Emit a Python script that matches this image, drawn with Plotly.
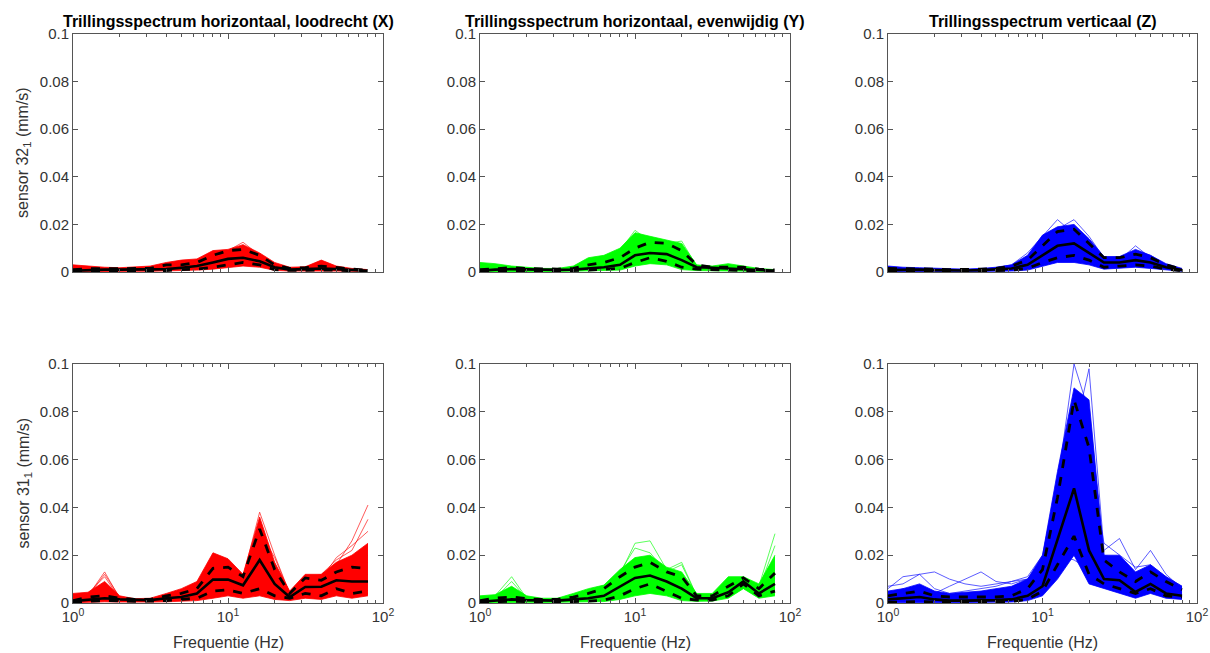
import plotly.graph_objects as go
from plotly.subplots import make_subplots

# 1/3-octave band centre frequencies (Hz)
freq = [1, 1.25, 1.6, 2, 2.5, 3.15, 4, 5, 6.3, 8, 10, 12.5, 16, 20, 25, 31.5, 40, 50, 63, 80]

titles = ["Trillingsspectrum horizontaal, loodrecht (X)",
          "Trillingsspectrum horizontaal, evenwijdig (Y)",
          "Trillingsspectrum verticaal (Z)"]
row_labels = ["sensor 32<sub>1</sub> (mm/s)", "sensor 31<sub>1</sub> (mm/s)"]
colors = ["#ff0000", "#00ff00", "#0000ff"]

# ---- sensor 32, X ----
s32x_lo = [0.0001, 0.0002, 0.0003, 0.0003, 0.0003, 0.0003, 0.0004, 0.0006, 0.0008, 0.0012, 0.002, 0.0025, 0.002, 0.0007, 0.0004, 0.0005, 0.0005, 0.0004, 0.0003, 0.0002]
s32x_hi = [0.003, 0.0025, 0.002, 0.0018, 0.002, 0.0025, 0.004, 0.005, 0.0055, 0.009, 0.0095, 0.0115, 0.008, 0.004, 0.002, 0.0022, 0.005, 0.0025, 0.0015, 0.001]
s32x_mean = [0.0005, 0.0008, 0.001, 0.001, 0.001, 0.001, 0.0012, 0.0018, 0.0025, 0.004, 0.0055, 0.006, 0.0045, 0.002, 0.001, 0.0012, 0.0015, 0.0012, 0.0008, 0.0005]
s32x_sdhi = [0.001, 0.0014, 0.0014, 0.0014, 0.0014, 0.0015, 0.003, 0.003, 0.004, 0.007, 0.009, 0.0095, 0.007, 0.003, 0.0015, 0.0018, 0.0025, 0.0018, 0.0012, 0.0007]
s32x_sdlo = [0.0002, 0.0004, 0.0006, 0.0006, 0.0006, 0.0006, 0.0006, 0.001, 0.0012, 0.002, 0.003, 0.004, 0.003, 0.001, 0.0007, 0.0008, 0.0008, 0.0008, 0.0005, 0.0003]
s32x_extra = [
    [0.002, 0.002, 0.0015, 0.0015, 0.0015, 0.002, 0.003, 0.004, 0.005, 0.008, 0.009, 0.0125, 0.007, 0.003, 0.0015, 0.002, 0.0045, 0.002, 0.001, 0.0008],
]

# ---- sensor 32, Y ----
s32y_lo = [0.0001, 0.0002, 0.0003, 0.0003, 0.0002, 0.0002, 0.0003, 0.0004, 0.0006, 0.0008, 0.0025, 0.0035, 0.003, 0.001, 0.0006, 0.0005, 0.0004, 0.0003, 0.0002, 0.0002]
s32y_hi = [0.004, 0.0035, 0.0025, 0.002, 0.0015, 0.0015, 0.0025, 0.006, 0.007, 0.01, 0.0165, 0.015, 0.0135, 0.012, 0.003, 0.0025, 0.0035, 0.0025, 0.0015, 0.001]
s32y_mean = [0.0005, 0.001, 0.0012, 0.001, 0.001, 0.0009, 0.001, 0.0015, 0.002, 0.003, 0.007, 0.008, 0.0075, 0.005, 0.002, 0.0018, 0.0015, 0.0012, 0.0008, 0.0005]
s32y_sdhi = [0.001, 0.0015, 0.0018, 0.0015, 0.0012, 0.0012, 0.0015, 0.003, 0.004, 0.006, 0.01, 0.0125, 0.012, 0.009, 0.003, 0.002, 0.002, 0.002, 0.0012, 0.0008]
s32y_sdlo = [0.0002, 0.0005, 0.0006, 0.0006, 0.0005, 0.0005, 0.0006, 0.0008, 0.001, 0.0015, 0.004, 0.006, 0.0045, 0.002, 0.0012, 0.001, 0.0008, 0.0006, 0.0004, 0.0003]
s32y_extra = [
    [0.003, 0.003, 0.002, 0.0015, 0.0012, 0.0012, 0.002, 0.005, 0.006, 0.009, 0.0175, 0.013, 0.012, 0.013, 0.0025, 0.002, 0.003, 0.002, 0.001, 0.0008],
]

# ---- sensor 32, Z ----
s32z_lo = [0.0001, 0.0002, 0.0002, 0.0002, 0.0001, 0.0001, 0.0002, 0.0003, 0.0004, 0.0008, 0.0025, 0.004, 0.004, 0.003, 0.0012, 0.0015, 0.002, 0.0015, 0.0008, 0.0003]
s32z_hi = [0.0025, 0.002, 0.0018, 0.0015, 0.0013, 0.0012, 0.0015, 0.002, 0.003, 0.007, 0.0155, 0.019, 0.02, 0.014, 0.0065, 0.0065, 0.0095, 0.007, 0.0035, 0.0015]
s32z_mean = [0.0008, 0.001, 0.001, 0.0008, 0.0006, 0.0006, 0.0008, 0.001, 0.0015, 0.003, 0.007, 0.011, 0.012, 0.008, 0.004, 0.004, 0.005, 0.004, 0.002, 0.0008]
s32z_sdhi = [0.0015, 0.0015, 0.0014, 0.0012, 0.001, 0.001, 0.0012, 0.0015, 0.0025, 0.005, 0.011, 0.017, 0.018, 0.012, 0.006, 0.006, 0.0075, 0.006, 0.003, 0.0012]
s32z_sdlo = [0.0003, 0.0005, 0.0005, 0.0004, 0.0003, 0.0003, 0.0004, 0.0006, 0.0008, 0.0015, 0.004, 0.006, 0.007, 0.005, 0.002, 0.0025, 0.003, 0.0025, 0.0012, 0.0005]
s32z_extra = [
    [0.002, 0.0015, 0.0015, 0.0012, 0.001, 0.001, 0.0012, 0.0018, 0.003, 0.008, 0.015, 0.022, 0.016, 0.012, 0.006, 0.005, 0.011, 0.006, 0.003, 0.001],
    [0.0015, 0.0015, 0.0012, 0.001, 0.001, 0.001, 0.0012, 0.0015, 0.0025, 0.006, 0.012, 0.018, 0.022, 0.015, 0.006, 0.006, 0.009, 0.007, 0.003, 0.001],
    [0.001, 0.001, 0.001, 0.001, 0.0008, 0.0008, 0.001, 0.0012, 0.002, 0.004, 0.008, 0.008, 0.006, 0.005, 0.003, 0.004, 0.006, 0.005, 0.002, 0.001],
]

# ---- sensor 31, X ----
s31x_lo = [0.0001, 0.0003, 0.0005, 0.0004, 0.0003, 0.0004, 0.0005, 0.0008, 0.001, 0.002, 0.003, 0.002, 0.003, 0.0015, 0.001, 0.002, 0.0015, 0.003, 0.002, 0.003]
s31x_hi = [0.004, 0.0045, 0.009, 0.003, 0.0018, 0.002, 0.004, 0.006, 0.009, 0.021, 0.0185, 0.012, 0.036, 0.017, 0.005, 0.012, 0.012, 0.017, 0.02, 0.025]
s31x_mean = [0.0008, 0.0015, 0.002, 0.0015, 0.0012, 0.0012, 0.002, 0.0025, 0.004, 0.0098, 0.0098, 0.0074, 0.018, 0.008, 0.0025, 0.0067, 0.0068, 0.0095, 0.009, 0.009]
s31x_sdhi = [0.001, 0.0025, 0.003, 0.002, 0.0015, 0.0015, 0.003, 0.004, 0.006, 0.0145, 0.015, 0.011, 0.031, 0.014, 0.004, 0.0105, 0.0095, 0.013, 0.015, 0.0145]
s31x_sdlo = [0.0003, 0.0008, 0.001, 0.0008, 0.0007, 0.0008, 0.001, 0.0015, 0.002, 0.005, 0.0055, 0.004, 0.006, 0.003, 0.002, 0.004, 0.003, 0.006, 0.004, 0.005]
s31x_extra = [
    [0.002, 0.003, 0.013, 0.002, 0.0012, 0.0015, 0.003, 0.005, 0.008, 0.018, 0.016, 0.011, 0.038, 0.02, 0.004, 0.011, 0.011, 0.016, 0.026, 0.041],
    [0.002, 0.004, 0.011, 0.002, 0.0012, 0.0015, 0.003, 0.004, 0.007, 0.015, 0.014, 0.01, 0.03, 0.019, 0.004, 0.01, 0.012, 0.018, 0.022, 0.035],
    [0.003, 0.003, 0.012, 0.0025, 0.0015, 0.0015, 0.003, 0.004, 0.007, 0.016, 0.017, 0.01, 0.033, 0.015, 0.004, 0.01, 0.01, 0.019, 0.024, 0.03],
]

# ---- sensor 31, Y ----
s31y_lo = [0.0001, 0.0002, 0.0004, 0.0003, 0.0002, 0.0003, 0.0003, 0.0004, 0.0006, 0.0015, 0.003, 0.004, 0.003, 0.001, 0.0007, 0.0008, 0.002, 0.006, 0.002, 0.003]
s31y_hi = [0.003, 0.0035, 0.007, 0.003, 0.002, 0.002, 0.004, 0.006, 0.0075, 0.014, 0.019, 0.02, 0.015, 0.013, 0.004, 0.004, 0.011, 0.011, 0.008, 0.02]
s31y_mean = [0.0005, 0.001, 0.0015, 0.0012, 0.001, 0.001, 0.0015, 0.002, 0.003, 0.007, 0.0105, 0.0115, 0.009, 0.006, 0.002, 0.002, 0.0045, 0.009, 0.004, 0.008]
s31y_sdhi = [0.001, 0.002, 0.0025, 0.0018, 0.0015, 0.0015, 0.0025, 0.004, 0.006, 0.011, 0.015, 0.017, 0.013, 0.011, 0.003, 0.003, 0.007, 0.0105, 0.006, 0.0125]
s31y_sdlo = [0.0002, 0.0005, 0.0008, 0.0006, 0.0005, 0.0005, 0.0006, 0.0008, 0.0012, 0.003, 0.006, 0.008, 0.005, 0.002, 0.0012, 0.0012, 0.003, 0.008, 0.003, 0.005]
s31y_extra = [
    [0.002, 0.003, 0.011, 0.002, 0.0015, 0.0015, 0.003, 0.005, 0.006, 0.012, 0.025, 0.026, 0.014, 0.017, 0.003, 0.003, 0.01, 0.01, 0.007, 0.029],
    [0.002, 0.002, 0.009, 0.002, 0.0015, 0.0015, 0.003, 0.004, 0.006, 0.013, 0.023, 0.021, 0.013, 0.016, 0.003, 0.003, 0.009, 0.01, 0.006, 0.024],
]

# ---- sensor 31, Z ----
s31z_lo = [0.0001, 0.0002, 0.0003, 0.0002, 0.0002, 0.0002, 0.0002, 0.0003, 0.0004, 0.001, 0.003, 0.01, 0.02, 0.008, 0.006, 0.004, 0.002, 0.004, 0.002, 0.0015]
s31z_hi = [0.005, 0.006, 0.008, 0.005, 0.004, 0.0045, 0.005, 0.006, 0.007, 0.01, 0.02, 0.055, 0.09, 0.085, 0.02, 0.02, 0.013, 0.016, 0.011, 0.007]
s31z_mean = [0.0015, 0.002, 0.0025, 0.0015, 0.001, 0.001, 0.001, 0.0012, 0.0015, 0.003, 0.007, 0.026, 0.048, 0.022, 0.01, 0.0095, 0.0046, 0.008, 0.004, 0.003]
s31z_sdhi = [0.003, 0.004, 0.005, 0.003, 0.0025, 0.0025, 0.0025, 0.0025, 0.003, 0.006, 0.014, 0.044, 0.085, 0.065, 0.018, 0.013, 0.009, 0.013, 0.009, 0.0055]
s31z_sdlo = [0.0003, 0.0005, 0.0006, 0.0005, 0.0004, 0.0004, 0.0004, 0.0005, 0.0007, 0.0015, 0.005, 0.016, 0.028, 0.012, 0.008, 0.006, 0.004, 0.006, 0.003, 0.0025]
s31z_extra = [
    [0.006, 0.011, 0.012, 0.013, 0.01, 0.008, 0.007, 0.008, 0.009, 0.011, 0.02, 0.05, 0.1, 0.08, 0.02, 0.018, 0.012, 0.015, 0.01, 0.006],
    [0.004, 0.006, 0.005, 0.004, 0.007, 0.01, 0.013, 0.009, 0.008, 0.01, 0.018, 0.052, 0.07, 0.098, 0.022, 0.027, 0.014, 0.022, 0.012, 0.006],
    [0.007, 0.008, 0.012, 0.006, 0.004, 0.005, 0.006, 0.007, 0.009, 0.01, 0.015, 0.04, 0.08, 0.06, 0.025, 0.02, 0.015, 0.016, 0.011, 0.007],
    [0.002, 0.003, 0.004, 0.003, 0.002, 0.002, 0.003, 0.004, 0.005, 0.008, 0.012, 0.015, 0.02, 0.012, 0.009, 0.008, 0.006, 0.01, 0.006, 0.004],
    [0.002, 0.002, 0.003, 0.003, 0.002, 0.002, 0.003, 0.004, 0.005, 0.008, 0.012, 0.02, 0.018, 0.014, 0.01, 0.009, 0.007, 0.009, 0.006, 0.004],
]

panels = [
    (1, 1, s32x_lo, s32x_hi, s32x_mean, s32x_sdhi, s32x_sdlo, s32x_extra),
    (1, 2, s32y_lo, s32y_hi, s32y_mean, s32y_sdhi, s32y_sdlo, s32y_extra),
    (1, 3, s32z_lo, s32z_hi, s32z_mean, s32z_sdhi, s32z_sdlo, s32z_extra),
    (2, 1, s31x_lo, s31x_hi, s31x_mean, s31x_sdhi, s31x_sdlo, s31x_extra),
    (2, 2, s31y_lo, s31y_hi, s31y_mean, s31y_sdhi, s31y_sdlo, s31y_extra),
    (2, 3, s31z_lo, s31z_hi, s31z_mean, s31z_sdhi, s31z_sdlo, s31z_extra),
]

W, H = 1210, 653


def px(x):
    return x / W


def py(y):
    return 1 - y / H


fig = make_subplots(rows=2, cols=3)

for row, col, lo, hi, mean, sdhi, sdlo, extra in panels:
    c = colors[col - 1]
    # band of individual measurements
    fig.add_trace(go.Scatter(x=freq, y=lo, mode="lines", line=dict(color=c, width=0.8),
                             showlegend=False), row=row, col=col)
    fig.add_trace(go.Scatter(x=freq, y=hi, mode="lines", line=dict(color=c, width=0.8),
                             fill="tonexty", fillcolor=c, showlegend=False), row=row, col=col)
    for e in extra:
        fig.add_trace(go.Scatter(x=freq, y=e, mode="lines", line=dict(color=c, width=0.8),
                                 opacity=0.8, showlegend=False), row=row, col=col)
    # mean +/- std
    for d in (sdhi, sdlo):
        fig.add_trace(go.Scatter(x=freq, y=d, mode="lines",
                                 line=dict(color="black", width=2.8, dash="dash"),
                                 showlegend=False), row=row, col=col)
    fig.add_trace(go.Scatter(x=freq, y=mean, mode="lines", line=dict(color="black", width=2.6),
                             showlegend=False), row=row, col=col)

# axes placement in window pixels
xdom = [(73, 383), (480, 790), (888, 1197)]
ydom = [(34, 272), (364, 603)]

minor_vals = [2, 3, 4, 5, 6, 7, 8, 9, 20, 30, 40, 50, 60, 70, 80, 90]
axcol = "#555555"
tickcol = "#333333"
for r in (1, 2):
    for ci in (1, 2, 3):
        x0, x1 = xdom[ci - 1]
        y0, y1 = ydom[r - 1]
        fig.update_xaxes(type="log", range=[0, 2], domain=[px(x0), px(x1)], automargin=False,
                         tickvals=[1, 10, 100],
                         ticktext=["10<sup>0</sup>", "10<sup>1</sup>", "10<sup>2</sup>"],
                         showticklabels=(r == 2), ticks="inside", ticklen=5, tickcolor=axcol,
                         minor=dict(ticks="inside", ticklen=3, tickcolor=axcol, tickvals=minor_vals),
                         showline=True, mirror="ticks", linecolor=axcol, linewidth=1,
                         showgrid=False, zeroline=False,
                         tickfont=dict(size=15, color=tickcol),
                         row=r, col=ci)
        fig.update_yaxes(range=[0, 0.1], domain=[py(y1), py(y0)], automargin=False,
                         tickvals=[0, 0.02, 0.04, 0.06, 0.08, 0.1],
                         ticktext=["0", "0.02", "0.04", "0.06", "0.08", "0.1"],
                         ticks="inside", ticklen=5, tickcolor=axcol,
                         showline=True, mirror="ticks", linecolor=axcol, linewidth=1,
                         showgrid=False, zeroline=False,
                         tickfont=dict(size=15, color=tickcol),
                         row=r, col=ci)

annotations = []
for ci, t in enumerate(titles):
    x0, x1 = xdom[ci]
    annotations.append(dict(text="<b>" + t + "</b>", x=px((x0 + x1) / 2), y=py(22),
                            xref="paper", yref="paper", xanchor="center", yanchor="middle",
                            showarrow=False, font=dict(size=16, color="black")))
    annotations.append(dict(text="Frequentie (Hz)", x=px((x0 + x1) / 2), y=py(642),
                            xref="paper", yref="paper", xanchor="center", yanchor="middle",
                            showarrow=False, font=dict(size=16, color=tickcol)))
for r, lab in enumerate(row_labels):
    y0, y1 = ydom[r]
    annotations.append(dict(text=lab, x=px(24), y=py((y0 + y1) / 2), textangle=-90,
                            xref="paper", yref="paper", xanchor="center", yanchor="middle",
                            showarrow=False, font=dict(size=16, color=tickcol)))

fig.update_layout(width=W, height=H, margin=dict(l=0, r=0, t=0, b=0),
                  plot_bgcolor="white", paper_bgcolor="white",
                  font=dict(family="Liberation Sans, Arial, sans-serif"),
                  annotations=annotations)

# drop the browser's default body margin so the figure fills the window exactly
fig.write_html("out.html", config={"displayModeBar": False},
               post_script="document.body.style.margin='0';document.body.style.overflow='hidden';")
